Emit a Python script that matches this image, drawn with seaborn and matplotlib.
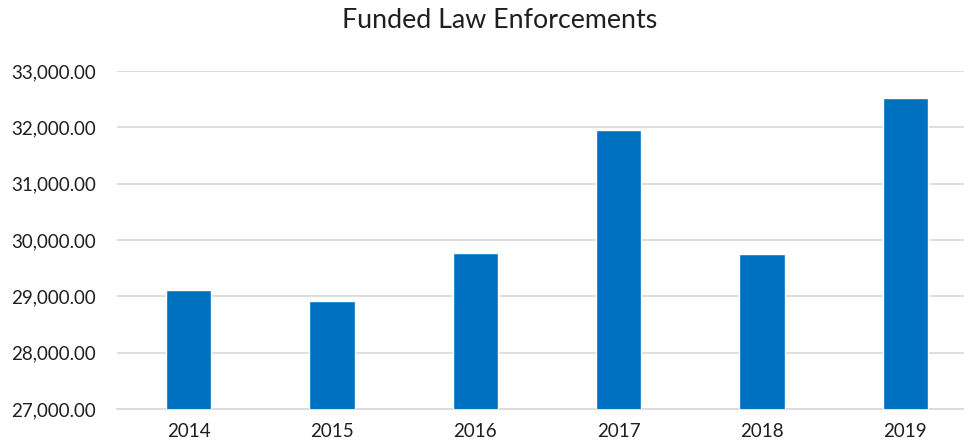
import matplotlib
matplotlib.use("Agg")
import matplotlib.pyplot as plt
import seaborn as sns
import pandas as pd
from matplotlib.ticker import FuncFormatter, MultipleLocator

years = ["2014", "2015", "2016", "2017", "2018", "2019"]
values = [29120, 28912, 29762, 31954, 29757, 32522]
title = "Funded Law Enforcements"

df = pd.DataFrame({"year": years, "value": values})

sns.set_style("white")
plt.rcParams["font.family"] = ["Lato", "DejaVu Sans"]

fig = plt.figure(figsize=(9.64, 4.44), dpi=100)
ax = fig.add_axes([117 / 964, 1 - 409 / 444, (977 - 117) / 964, (409 - 71) / 444])

sns.barplot(data=df, x="year", y="value", color="#0070C0", width=0.314,
            saturation=1, ax=ax, zorder=3)

ax.set_ylim(27000, 33000)
ax.yaxis.set_major_locator(MultipleLocator(1000))
ax.yaxis.set_major_formatter(FuncFormatter(lambda v, p: f"{v:,.2f}"))
ax.grid(axis="y", color="#D9D9D9", linewidth=1.2, zorder=0)
ax.set_axisbelow(True)
for s in ["top", "right", "left"]:
    ax.spines[s].set_visible(False)
ax.spines["bottom"].set_color("#D9D9D9")
ax.spines["bottom"].set_linewidth(1.2)
ax.tick_params(axis="both", length=0, labelsize=13.5, colors="#1f1f1f")
ax.tick_params(axis="y", pad=15)
ax.tick_params(axis="x", pad=10)
ax.set_xlabel("")
ax.set_ylabel("")
fig.text(500 / 964, 1 - 21 / 444, title, ha="center", va="center",
         fontsize=19.3, color="#1f1f1f")

fig.savefig("out.png", dpi=100)
